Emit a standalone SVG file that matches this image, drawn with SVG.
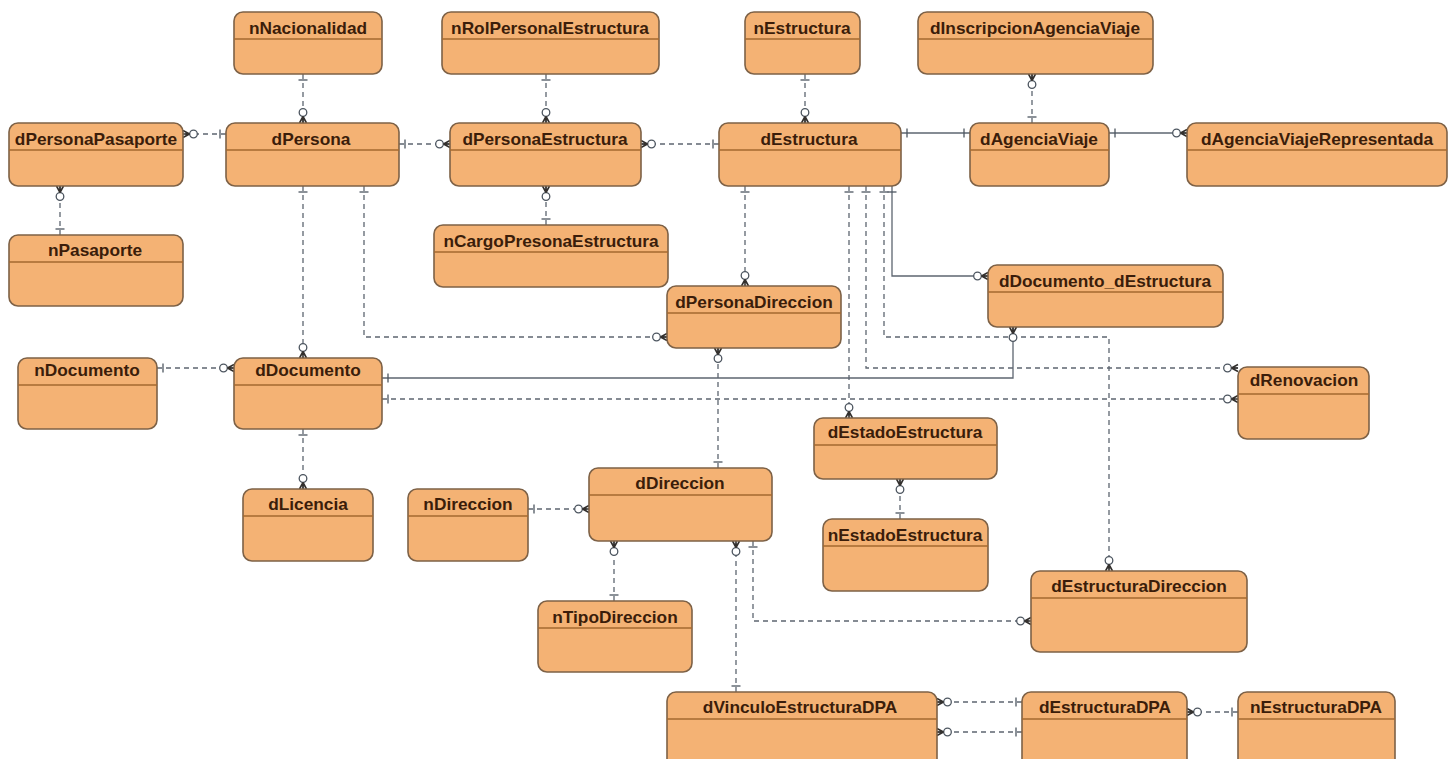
<svg xmlns="http://www.w3.org/2000/svg" width="1450" height="759" viewBox="0 0 1450 759">
<style>
.box{fill:#f4b274;stroke:#7d6146;stroke-width:1.6}
.hd{stroke:#a4682f;stroke-width:1.6;fill:none}
.t{font-family:"Liberation Sans",Arial,sans-serif;font-size:17.300px;font-weight:700;fill:#3b1d0a;text-anchor:middle}
.c{fill:none;stroke:#5d6670;stroke-width:1.3;marker-start:url(#bar)}
.d{stroke-dasharray:5 4}
.m{marker-end:url(#many)}
.b{marker-end:url(#barEnd)}
</style>
<defs>
<marker id="bar" markerUnits="userSpaceOnUse" markerWidth="24" markerHeight="16" viewBox="0 -8 24 16" refX="0" refY="0" orient="auto"><path d="M6-4.500V4.500" fill="none" stroke="#4d5660" stroke-width="1.300"/></marker>
<marker id="barEnd" markerUnits="userSpaceOnUse" markerWidth="24" markerHeight="16" viewBox="-24 -8 24 16" refX="0" refY="0" orient="auto"><path d="M-6-4.500V4.500" fill="none" stroke="#4d5660" stroke-width="1.300"/></marker>
<marker id="many" markerUnits="userSpaceOnUse" markerWidth="24" markerHeight="16" viewBox="-22 -8 24 16" refX="0" refY="0" orient="auto"><circle cx="-10.500" cy="0" r="3.800" fill="#fff" stroke="#4d5660" stroke-width="1.300"/><path d="M-6.500 0L0-3.500M-6.500 0L0 3.500M-6.500 0H0" fill="none" stroke="#33302e" stroke-width="1.600"/></marker>
</defs>
<g id="connectors">
<path class="c d m" d="M303 74V123"/>
<path class="c d m" d="M226 134H183"/>
<path class="c d m" d="M60 235V186"/>
<path class="c d m" d="M399 144H450"/>
<path class="c d m" d="M546 74V123"/>
<path class="c d m" d="M546 225V186"/>
<path class="c d m" d="M719 144H641"/>
<path class="c d m" d="M805 74V123"/>
<path class="c d m" d="M1032 123V74"/>
<path class="c b" d="M901 133H970"/>
<path class="c m" d="M1109 133H1187"/>
<path class="c d m" d="M303 186V358"/>
<path class="c d m" d="M364 186V337H667"/>
<path class="c d m" d="M745 186V286"/>
<path class="c m" d="M892 186V276H988"/>
<path class="c d m" d="M884 186V337H1109V571"/>
<path class="c d m" d="M866 186V368H1238"/>
<path class="c d m" d="M849 186V418"/>
<path class="c m" d="M382 378H1013V327"/>
<path class="c d m" d="M382 399H1238"/>
<path class="c d m" d="M157 368H234"/>
<path class="c d m" d="M303 429V489"/>
<path class="c d m" d="M718 468V348"/>
<path class="c d m" d="M528 509H589"/>
<path class="c d m" d="M614 601V541"/>
<path class="c d m" d="M753 541V621H1031"/>
<path class="c d m" d="M736 692V541"/>
<path class="c d m" d="M1022 702H937"/>
<path class="c d m" d="M1022 732H937"/>
<path class="c d m" d="M1238 712H1187"/>
<path class="c d m" d="M900 519V479"/>
</g>
<g id="nNacionalidad"><rect class="box" x="234" y="12" width="148" height="62" rx="9"/><path class="hd" d="M234 39H382"/><text class="t" x="308" y="34">nNacionalidad</text></g>
<g id="nRolPersonalEstructura"><rect class="box" x="442" y="12" width="217" height="62" rx="9"/><path class="hd" d="M442 39H659"/><text class="t" x="550" y="34">nRolPersonalEstructura</text></g>
<g id="nEstructura"><rect class="box" x="745" y="12" width="115" height="62" rx="9"/><path class="hd" d="M745 39H860"/><text class="t" x="802" y="34">nEstructura</text></g>
<g id="dInscripcionAgenciaViaje"><rect class="box" x="918" y="12" width="235" height="62" rx="9"/><path class="hd" d="M918 39H1153"/><text class="t" x="1035" y="34">dInscripcionAgenciaViaje</text></g>
<g id="dPersonaPasaporte"><rect class="box" x="9" y="123" width="174" height="63" rx="9"/><path class="hd" d="M9 150H183"/><text class="t" x="96" y="145">dPersonaPasaporte</text></g>
<g id="dPersona"><rect class="box" x="226" y="123" width="173" height="63" rx="9"/><path class="hd" d="M226 150H399"/><text class="t" x="311" y="145">dPersona</text></g>
<g id="dPersonaEstructura"><rect class="box" x="450" y="123" width="191" height="63" rx="9"/><path class="hd" d="M450 150H641"/><text class="t" x="545" y="145">dPersonaEstructura</text></g>
<g id="dEstructura"><rect class="box" x="719" y="123" width="182" height="63" rx="9"/><path class="hd" d="M719 150H901"/><text class="t" x="809" y="145">dEstructura</text></g>
<g id="dAgenciaViaje"><rect class="box" x="970" y="123" width="139" height="63" rx="9"/><path class="hd" d="M970 150H1109"/><text class="t" x="1039" y="145">dAgenciaViaje</text></g>
<g id="dAgenciaViajeRepresentada"><rect class="box" x="1187" y="123" width="260" height="63" rx="9"/><path class="hd" d="M1187 150H1447"/><text class="t" x="1317" y="145">dAgenciaViajeRepresentada</text></g>
<g id="nPasaporte"><rect class="box" x="9" y="235" width="174" height="71" rx="9"/><path class="hd" d="M9 262H183"/><text class="t" x="95" y="256">nPasaporte</text></g>
<g id="nCargoPresonaEstructura"><rect class="box" x="434" y="225" width="234" height="62" rx="9"/><path class="hd" d="M434 252H668"/><text class="t" x="551" y="247">nCargoPresonaEstructura</text></g>
<g id="dPersonaDireccion"><rect class="box" x="667" y="286" width="174" height="62" rx="9"/><path class="hd" d="M667 313H841"/><text class="t" x="754" y="308">dPersonaDireccion</text></g>
<g id="dDocumento_dEstructura"><rect class="box" x="988" y="265" width="235" height="62" rx="9"/><path class="hd" d="M988 292H1223"/><text class="t" x="1105" y="287">dDocumento_dEstructura</text></g>
<g id="nDocumento"><rect class="box" x="18" y="358" width="139" height="71" rx="9"/><path class="hd" d="M18 385H157"/><text class="t" x="87" y="376">nDocumento</text></g>
<g id="dDocumento"><rect class="box" x="234" y="358" width="148" height="71" rx="9"/><path class="hd" d="M234 385H382"/><text class="t" x="308" y="376">dDocumento</text></g>
<g id="dRenovacion"><rect class="box" x="1238" y="367" width="131" height="72" rx="9"/><path class="hd" d="M1238 394H1369"/><text class="t" x="1304" y="386">dRenovacion</text></g>
<g id="dEstadoEstructura"><rect class="box" x="814" y="418" width="183" height="61" rx="9"/><path class="hd" d="M814 445H997"/><text class="t" x="905" y="438">dEstadoEstructura</text></g>
<g id="dLicencia"><rect class="box" x="243" y="489" width="130" height="72" rx="9"/><path class="hd" d="M243 516H373"/><text class="t" x="308" y="510">dLicencia</text></g>
<g id="nDireccion"><rect class="box" x="408" y="489" width="120" height="72" rx="9"/><path class="hd" d="M408 516H528"/><text class="t" x="468" y="510">nDireccion</text></g>
<g id="dDireccion"><rect class="box" x="589" y="468" width="183" height="73" rx="9"/><path class="hd" d="M589 495H772"/><text class="t" x="680" y="489">dDireccion</text></g>
<g id="nEstadoEstructura"><rect class="box" x="823" y="519" width="165" height="72" rx="9"/><path class="hd" d="M823 546H988"/><text class="t" x="905" y="541">nEstadoEstructura</text></g>
<g id="nTipoDireccion"><rect class="box" x="538" y="601" width="154" height="71" rx="9"/><path class="hd" d="M538 628H692"/><text class="t" x="615" y="623">nTipoDireccion</text></g>
<g id="dEstructuraDireccion"><rect class="box" x="1031" y="571" width="216" height="81" rx="9"/><path class="hd" d="M1031 598H1247"/><text class="t" x="1139" y="592">dEstructuraDireccion</text></g>
<g id="dVinculoEstructuraDPA"><rect class="box" x="667" y="692" width="270" height="80" rx="9"/><path class="hd" d="M667 719H937"/><text class="t" x="800" y="713">dVinculoEstructuraDPA</text></g>
<g id="dEstructuraDPA"><rect class="box" x="1022" y="692" width="165" height="80" rx="9"/><path class="hd" d="M1022 719H1187"/><text class="t" x="1105" y="713">dEstructuraDPA</text></g>
<g id="nEstructuraDPA"><rect class="box" x="1238" y="692" width="157" height="80" rx="9"/><path class="hd" d="M1238 719H1395"/><text class="t" x="1316" y="713">nEstructuraDPA</text></g>
</svg>
